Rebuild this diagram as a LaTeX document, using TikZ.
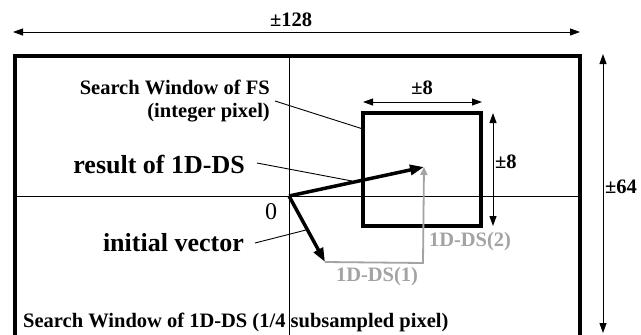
\documentclass[tikz,border=0pt]{standalone}
\usepackage{fontspec}
\setmainfont{Liberation Serif}
\usetikzlibrary{arrows.meta,positioning}
\definecolor{dsgray}{HTML}{A3A3A3}

\begin{document}
\begin{tikzpicture}[x=1pt, y=-1pt,
lbl/.style={font=\fontsize{20.5}{23}\selectfont\bfseries, inner sep=0pt},
biglbl/.style={font=\fontsize{26}{30}\selectfont\bfseries, inner sep=0pt},
graylbl/.style={lbl, text=dsgray},
dim/.style={{Triangle[length=10pt,width=7pt]}-{Triangle[length=10pt,width=7pt]}, line width=1pt},
frame/.style={line width=4pt},
fsbox/.style={draw, line width=4pt, inner sep=0pt, outer sep=0pt, minimum width=118pt, minimum height=113pt},
vec/.style={-{Triangle[length=14pt,width=10pt]}, line width=3.5pt},
dsarrow/.style={-{Triangle[length=8pt,width=7pt]}, line width=1.8pt, draw=dsgray},
leader/.style={line width=0.9pt},
axis/.style={line width=1pt}
]
\useasboundingbox[fill=white] (0,0) rectangle (641,335);
\draw[frame] (15,335) -- (15,56) -- (580,56) -- (580,335);
\draw[axis] (15,196) -- (580,196);
\draw[axis] (289,56) -- (289,335);
\coordinate (o) at (289,196);
\coordinate (iv) at (325,262);
\coordinate (cn) at (423,263);
\coordinate (rv) at (424,167);
\node[fsbox] (fs) at (422,169.5) {};
\node[lbl] (t128) at (291,20) {±128};
\draw[dim] (13,32) -- (580,32);
\draw[dim] (603,54) -- (603,333);
\node[lbl, anchor=west] (t64) at (605,187) {±64};
\draw[dim] (fs.north west) ++(0,-11) coordinate (a8) -- ++(119,0) coordinate (b8);
\node[lbl] (t8a) at (422,88) {±8};
\draw[dim] ([xshift=12pt]fs.north east) -- ([xshift=12pt]fs.south east);
\node[lbl, anchor=west] (t8b) at (495,162) {±8};
\draw[dsarrow] (iv) -- (cn) -- (rv);
\draw[vec] (o) -- (iv);
\draw[vec] (o) -- (rv);
\node[graylbl] (ds1) at (377,277) {1D-DS(1)};
\node[graylbl] (ds2) at (470,242) {1D-DS(2)};
\node[font=\fontsize{24}{26}\selectfont, inner sep=0pt] (zero) at (271,212) {0};
\node[lbl, align=right, anchor=east] (fslbl) at (270,101) {Search Window of FS\\(integer pixel)};
\draw[leader] ([xshift=5pt]fslbl.east) -- ([yshift=-16pt]fs.north west);
\node[biglbl, anchor=east] (res) at (245,165) {result of 1D-DS};
\coordinate (rp) at (352,181);
\draw[leader] ([xshift=12pt,yshift=2pt]res.east) -- (rp);
\node[biglbl, anchor=east] (ini) at (244,243) {initial vector};
\coordinate (ip) at (306,230);
\draw[leader] ([xshift=11pt]ini.east) -- (ip);
\node[lbl, anchor=base west] (sw1d) at (23,327) {Search Window of 1D-DS (1/4 subsampled pixel)};
\end{tikzpicture}
\end{document}
